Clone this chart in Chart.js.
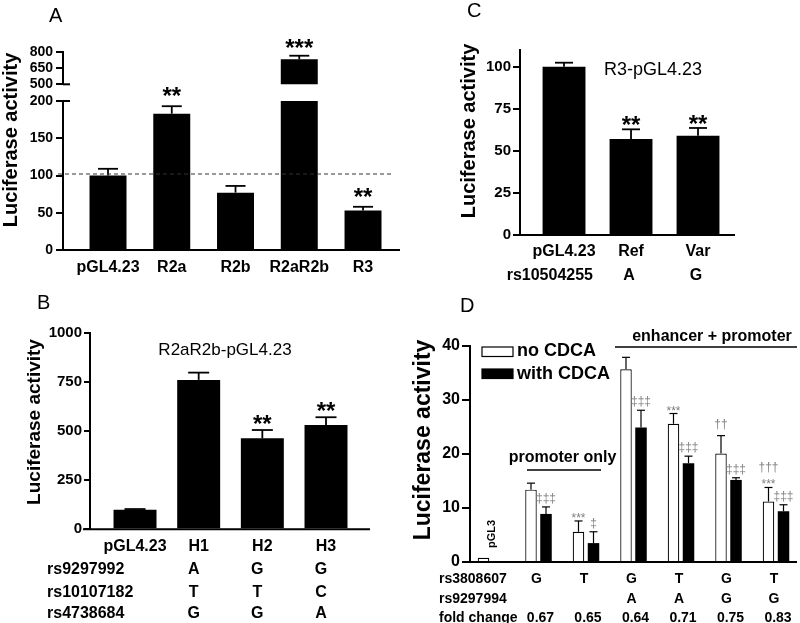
<!DOCTYPE html>
<html><head><meta charset="utf-8">
<script src="https://cdn.jsdelivr.net/npm/chart.js@4.4.1/dist/chart.umd.min.js"></script>
<style>
html,body{margin:0;padding:0;background:#fff;}
body{width:800px;height:623px;position:relative;overflow:hidden;}
canvas{position:absolute;}
</style></head><body>
<canvas id="cA0"></canvas>
<canvas id="cA1"></canvas>
<canvas id="cB"></canvas>
<canvas id="cC"></canvas>
<canvas id="cD"></canvas>
<script>
// ---------- Panel A ----------
const aLabels = ['pGL4.23', 'R2a', 'R2b', 'R2aR2b', 'R3'];
const aValues = [100, 183, 77, 730, 53];
const aErrors = [9, 10, 9, 33, 5];
const aStars = ['', '**', '', '***', '**'];
const aRefLine = [102];
const aLowTicks = [0, 50, 100, 150, 200];
const aHighTicks = [500, 650, 800];
// ---------- Panel B ----------
const bLabels = ['pGL4.23', 'H1', 'H2', 'H3'];
const bValues = [100, 760, 463, 531];
const bErrors = [3, 37, 42, 39];
const bStars = ['', '', '**', '**'];
const bTitle = 'R2aR2b-pGL4.23';
const bSnpNames = ['rs9297992', 'rs10107182', 'rs4738684'];
const bSnpAlleles = [['', 'A', 'G', 'G'], ['', 'T', 'T', 'C'], ['', 'G', 'G', 'A']];
const bTicks = [0, 250, 500, 750, 1000];
// ---------- Panel C ----------
const cLabels = ['pGL4.23', 'Ref', 'Var'];
const cValues = [100, 57, 59];
const cErrors = [2.4, 5.8, 4.6];
const cStars = ['', '**', '**'];
const cTitle = 'R3-pGL4.23';
const cSnpName = 'rs10504255';
const cSnpAlleles = ['', 'A', 'G'];
const cTicks = [0, 25, 50, 75, 100];
// ---------- Panel D ----------
const dGroups = ['pGL3', 'G', 'T', 'G', 'T', 'G', 'T'];
const dSeries = ['no CDCA', 'with CDCA'];
const dNoCdca = [0.8, 13.4, 5.6, 35.7, 25.6, 20.1, 11.2];
const dNoCdcaErr = [0, 1.2, 2.0, 2.2, 1.9, 3.3, 2.6];
const dWithCdca = [null, 8.9, 3.5, 24.9, 18.3, 15.2, 9.4];
const dWithCdcaErr = [null, 1.3, 2.1, 3.2, 1.3, 0.4, 1.2];
const dNoSig = [[], [], ['***'], [], ['***'], ['††'], ['†††', '***']];
const dWithSig = [[], ['‡‡‡'], ['‡'], ['‡‡‡'], ['‡‡‡'], ['‡‡‡'], ['‡‡‡']];
const dRowNames = ['rs3808607', 'rs9297994', 'fold change'];
const dRs3808607 = ['', 'G', 'T', 'G', 'T', 'G', 'T'];
const dRs9297994 = ['', '', '', 'A', 'A', 'G', 'G'];
const dFold = ['', '0.67', '0.65', '0.64', '0.71', '0.75', '0.83'];
const dTicks = [0, 10, 20, 30, 40];
const dSpanLabels = ['promoter only', 'enhancer + promoter'];
const yTitle = 'Luciferase activity';

const FONT = '"Liberation Sans", Arial, Helvetica, sans-serif';
const fnt = (size, bold) => (bold ? 'bold ' : '') + size + 'px ' + FONT;

function txt(ctx, s, x, y, font, align, color, rot, baseline) {
  ctx.save();
  ctx.font = font; ctx.fillStyle = color || '#000';
  ctx.textAlign = align || 'left'; ctx.textBaseline = baseline || 'alphabetic';
  ctx.translate(x, y);
  if (rot) ctx.rotate(rot);
  ctx.fillText(s, 0, 0);
  ctx.restore();
}
function line(ctx, x1, y1, x2, y2, lw, color, dash) {
  ctx.save(); ctx.beginPath(); ctx.moveTo(x1, y1); ctx.lineTo(x2, y2);
  ctx.lineWidth = lw; ctx.strokeStyle = color || '#000';
  if (dash) ctx.setLineDash(dash);
  ctx.stroke(); ctx.restore();
}

function yAxis(min, max, ticks, size, tickLen, pad) {
  return {
    type: 'linear', min: min, max: max, offset: false,
    afterBuildTicks: s => { s.ticks = ticks.map(v => ({ value: v })); },
    ticks: { color: '#000', font: { family: FONT, size: size, weight: 'bold' }, padding: pad,
             autoSkip: false, callback: v => String(v) },
    grid: { drawOnChartArea: false, color: '#000', lineWidth: 2, tickLength: tickLen, drawTicks: true },
    border: { display: true, color: '#000', width: 2 }
  };
}
function xAxis(min, max, labels, size, pad, showBorder, showLabels) {
  return {
    type: 'linear', min: min, max: max, offset: false,
    afterBuildTicks: s => { s.ticks = labels.map((_, i) => ({ value: i })); },
    ticks: { display: showLabels, color: '#000', font: { family: FONT, size: size, weight: 'bold' },
             padding: pad, autoSkip: false, maxRotation: 0, minRotation: 0,
             callback: v => labels[v] },
    grid: { display: false, drawTicks: false, offset: false },
    border: { display: showBorder, color: '#000', width: 2 }
  };
}

function mk(id, box, plot, cfg, draw) {
  const cv = document.getElementById(id);
  cv.width = box.w; cv.height = box.h;
  cv.style.left = box.l + 'px'; cv.style.top = box.t + 'px';
  cv.style.width = box.w + 'px'; cv.style.height = box.h + 'px';
  const o = cfg.options;
  o.responsive = false; o.animation = false; o.devicePixelRatio = 1;
  o.layout = { padding: { top: plot.t - box.t, right: box.l + box.w - plot.r, left: 0, bottom: 0 } };
  o.scales.y.afterFit = s => { s.width = plot.l - box.l; };
  o.scales.x.afterFit = s => { s.height = box.t + box.h - plot.b; };
  o.plugins = { legend: { display: false }, tooltip: { enabled: false } };
  cfg.plugins = [{ id: 'deco_' + id, afterDraw(chart) {
    const ctx = chart.ctx; ctx.save(); ctx.translate(-box.l, -box.t);
    draw(chart, ctx, box); ctx.restore(); } }];
  return new Chart(cv, cfg);
}

// draws error bars (upper only); returns tops in page coords
function errBars(chart, ctx, box, dsi, values, errors, capW, lw) {
  const ys = chart.scales.y, area = chart.chartArea;
  const meta = chart.getDatasetMeta(dsi);
  return meta.data.map((bar, i) => {
    const v = values[i], e = errors[i] || 0;
    if (v == null) return null;
    const pt = ys.getPixelForValue(v + e), pb = ys.getPixelForValue(v);
    if (pt < area.top - 1 || pt > area.bottom) return null;
    const x = bar.x + box.l;
    if (e) {
      line(ctx, x, Math.min(pb, area.bottom) + box.t, x, pt + box.t, lw);
      line(ctx, x - capW / 2, pt + box.t, x + capW / 2, pt + box.t, lw);
    }
    return { x: x, y: pt + box.t };
  });
}
function stars(ctx, tops, marks, off, size) {
  tops.forEach((t, i) => { if (t && marks[i]) txt(ctx, marks[i], t.x, t.y + off, fnt(size, true), 'center'); });
}
function barDs(vals, opts) {
  return Object.assign({ data: vals.map((v, i) => ({ x: i, y: v })), borderWidth: 0, backgroundColor: '#000' }, opts);
}
function xBorder(chart, ctx, box) {
  const a = chart.chartArea;
  line(ctx, a.left + box.l - 7, a.bottom + box.t, a.right + box.l, a.bottom + box.t, 2);
}

// ---------- Panel A (bottom part, 0-200) ----------
const aBox0 = { l: 0, t: 0, w: 405, h: 300 }, aPlot0 = { l: 63, t: 101, r: 400, b: 250 };
mk('cA0', aBox0, aPlot0, {
  type: 'bar',
  data: { datasets: [barDs(aValues, { barPercentage: 0.58, categoryPercentage: 1 })] },
  options: { scales: { x: xAxis(-0.706, 4.58, aLabels, 16, 8, false, true), y: yAxis(0, 200, aLowTicks, 14, 7, 3) } }
}, (chart, ctx, box) => {
  xBorder(chart, ctx, box);
  const tops = errBars(chart, ctx, box, 0, aValues, aErrors, 20, 1.8);
  stars(ctx, tops, aStars, -2, 24);
  const ya = chart.scales.y, area = chart.chartArea;
  const yr = ya.getPixelForValue(aRefLine[0]) + box.t;
  line(ctx, area.left + box.l - 5, yr, area.right + box.l - 6, yr, 1.2, '#333', [4, 3]);
  const yb = ya.getPixelForValue(200) + box.t;
  line(ctx, area.left + box.l, yb, area.left + box.l + 7, yb, 2);
  txt(ctx, 'A', 49, 22, fnt(20, false), 'left');
  txt(ctx, yTitle, 11, 140, fnt(20, true), 'center', '#000', -Math.PI / 2, 'middle');
});

// ---------- Panel A (top part, 500-800) ----------
const aBox1 = { l: 0, t: 30, w: 405, h: 70 }, aPlot1 = { l: 63, t: 51.7, r: 400, b: 84.3 };
mk('cA1', aBox1, aPlot1, {
  type: 'bar',
  data: { datasets: [barDs(aValues, { barPercentage: 0.58, categoryPercentage: 1 })] },
  options: { scales: { x: xAxis(-0.706, 4.58, aLabels, 16, 8, false, false), y: yAxis(500, 800, aHighTicks, 14, 7, 3) } }
}, (chart, ctx, box) => {
  const tops = errBars(chart, ctx, box, 0, aValues, aErrors, 20, 1.8);
  stars(ctx, tops, aStars, 0, 24);
  const ya = chart.scales.y, area = chart.chartArea;
  const yb = ya.getPixelForValue(500) + box.t;
  line(ctx, area.left + box.l, yb, area.left + box.l + 7, yb, 2);
});

// ---------- Panel B ----------
const bBox = { l: 0, t: 285, w: 400, h: 338 }, bPlot = { l: 90, t: 332.7, r: 370, b: 529.3 };
mk('cB', bBox, bPlot, {
  type: 'bar',
  data: { datasets: [barDs(bValues, { barPercentage: 0.675, categoryPercentage: 1 })] },
  options: { scales: { x: xAxis(-0.707, 3.691, bLabels, 16, 7.5, false, true), y: yAxis(0, 1000, bTicks, 15, 6, 2) } }
}, (chart, ctx, box) => {
  xBorder(chart, ctx, box);
  const tops = errBars(chart, ctx, box, 0, bValues, bErrors, 21, 1.8);
  stars(ctx, tops, bStars, 2, 24);
  const meta = chart.getDatasetMeta(0);
  txt(ctx, 'B', 37, 309, fnt(20, false), 'left');
  txt(ctx, yTitle, 35, 422, fnt(19, true), 'center', '#000', -Math.PI / 2, 'middle');
  txt(ctx, bTitle, 225, 354.5, fnt(17, false), 'center');
  const rowY = [574, 596.5, 618];
  bSnpNames.forEach((n, r) => {
    txt(ctx, n, 47, rowY[r], fnt(16, true), 'left');
    bSnpAlleles[r].forEach((a, i) => { if (a) txt(ctx, a, meta.data[i].x + box.l - 5, rowY[r], fnt(16, true), 'center'); });
  });
});

// ---------- Panel C ----------
const cBox = { l: 400, t: 0, w: 400, h: 300 }, cPlot = { l: 520, t: 49.9, r: 735, b: 235 };
mk('cC', cBox, cPlot, {
  type: 'bar',
  data: { datasets: [barDs(cValues, { barPercentage: 0.64, categoryPercentage: 1 })] },
  options: { scales: { x: xAxis(-0.657, 2.552, cLabels, 16, 6.5, false, true), y: yAxis(0, 110, cTicks, 15, 7, 2) } }
}, (chart, ctx, box) => {
  xBorder(chart, ctx, box);
  const tops = errBars(chart, ctx, box, 0, cValues, cErrors, 18, 1.8);
  stars(ctx, tops, cStars, 4, 24);
  const meta = chart.getDatasetMeta(0);
  txt(ctx, 'C', 467, 17, fnt(20, false), 'left');
  txt(ctx, yTitle, 469, 131, fnt(20, true), 'center', '#000', -Math.PI / 2, 'middle');
  txt(ctx, cTitle, 604, 75, fnt(18, false), 'left');
  txt(ctx, cSnpName, 593, 279.5, fnt(16, true), 'right');
  cSnpAlleles.forEach((a, i) => { if (a) txt(ctx, a, meta.data[i].x + box.l - 2, 279.5, fnt(16, true), 'center'); });
});

// ---------- Panel D ----------
const dBox = { l: 400, t: 290, w: 400, h: 333 }, dPlot = { l: 470, t: 346, r: 797, b: 562 };
mk('cD', dBox, dPlot, {
  type: 'bar',
  data: { datasets: [
    barDs(dNoCdca, { label: dSeries[0], backgroundColor: '#fff', borderColor: '#000', borderWidth: 1.2,
                     barPercentage: 0.767, categoryPercentage: 0.632 }),
    barDs(dWithCdca, { label: dSeries[1], backgroundColor: '#000', barPercentage: 0.767, categoryPercentage: 0.632 })
  ] },
  options: { scales: { x: xAxis(-0.442, 6.442, dGroups, 14, 4, false, false), y: yAxis(0, 40, dTicks, 16, 8, 2) } }
}, (chart, ctx, box) => {
  xBorder(chart, ctx, box);
  const t0 = errBars(chart, ctx, box, 0, dNoCdca, dNoCdcaErr, 8, 1.2);
  const t1 = errBars(chart, ctx, box, 1, dWithCdca, dWithCdcaErr, 8, 1.2);
  const sig = (tops, marks) => tops.forEach((t, i) => {
    if (!t) return;
    const lines = marks[i]; if (!lines.length) return;
    const last = lines[lines.length - 1];
    let y = t.y + (last.indexOf('*') >= 0 ? 1 : (last.indexOf('‡') >= 0 ? -5 : -8));
    for (let k = lines.length - 1; k >= 0; k--) {
      txt(ctx, lines[k], t.x, y, fnt(12, false), 'center', '#808080');
      y -= 17;
    }
  });
  sig(t0, dNoSig); sig(t1, dWithSig);
  const m0 = chart.getDatasetMeta(0);
  const xs = chart.scales.x;
  const gx = i => xs.getPixelForValue(i) + box.l;
  txt(ctx, 'D', 460, 312, fnt(20, false), 'left');
  txt(ctx, yTitle, 424, 440, fnt(23, true), 'center', '#000', -Math.PI / 2, 'middle');
  // legend
  const ds = chart.data.datasets;
  [[347, 356], [369, 379]].forEach((p, k) => {
    ctx.save();
    ctx.fillStyle = ds[k].backgroundColor; ctx.fillRect(482, p[0], 31, 9.5);
    ctx.strokeStyle = '#000'; ctx.lineWidth = 1.2; ctx.strokeRect(482, p[0], 31, 9.5);
    ctx.restore();
    txt(ctx, ds[k].label, 517, p[1], fnt(18, true), 'left');
  });
  // pGL3 label
  txt(ctx, dGroups[0], m0.data[0].x + box.l + 12, 534, fnt(11, true), 'center', '#000', -Math.PI / 2);
  // span labels
  txt(ctx, dSpanLabels[0], 562.5, 462, fnt(16, true), 'center');
  line(ctx, 527, 470, 601, 470, 1.5);
  txt(ctx, dSpanLabels[1], 712, 341, fnt(16, true), 'center');
  line(ctx, 615, 347, 797, 347, 1.5);
  // rows
  const rowY = [583, 603, 622];
  const rows = [dRs3808607, dRs9297994, dFold];
  dRowNames.forEach((n, r) => {
    txt(ctx, n, 439, rowY[r], fnt(14, true), 'left');
    rows[r].forEach((v, i) => { if (v) txt(ctx, v, gx(i) + (r === 2 ? 2 : -2), rowY[r], fnt(14, true), 'center'); });
  });
});
</script>
</body></html>
